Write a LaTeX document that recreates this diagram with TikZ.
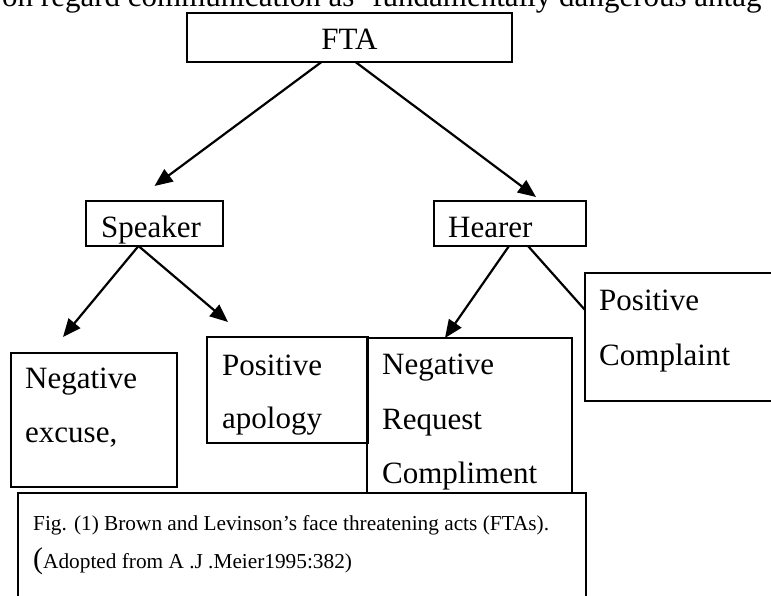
\documentclass[tikz,border=0pt]{standalone}
\usepackage{fontspec}
\setmainfont{Liberation Serif}
\usepackage{tikz}
\usetikzlibrary{arrows.meta}

\begin{document}
\begin{tikzpicture}[x=1pt, y=-1pt,
  box/.style={draw, line width=2pt, anchor=north west, inner sep=0pt, outer sep=0pt},
  word/.style={anchor=base west, inner sep=0pt, font=\fontsize{31}{37}\selectfont},
  small/.style={anchor=base west, inner sep=0pt, font=\fontsize{21.3}{25}\selectfont},
  arr/.style={line width=2.2pt, -{Triangle[length=18pt,width=15pt]}}]
 \clip (0,0) rectangle (771,596);
 \node[word] (intro) at (2,7) {on regard communication as ‘fundamentally dangerous antag};
 \node[box, minimum width=325pt, minimum height=49pt] (fta) at (187,13) {};
 \node[word, anchor=base] (ftat) at (349.5,50) {FTA};
 \node[box, minimum width=137pt, minimum height=45pt] (spk) at (86,201) {};
 \node[word] (spkt) at (101,237) {Speaker};
 \node[box, minimum width=152pt, minimum height=45pt] (hear) at (434,201) {};
 \node[word] (heart) at (448,237) {Hearer};
 \node[box, minimum width=166pt, minimum height=134pt] (negex) at (11,353) {};
 \node[word] (negexa) at (25,388) {Negative};
 \node[word] (negexb) at (25,442) {excuse,};
 \node[box, minimum width=161pt, minimum height=106pt] (posap) at (207,337) {};
 \node[word] (posapa) at (222,375) {Positive};
 \node[word] (posapb) at (222,428) {apology};
 \node[box, minimum width=205pt, minimum height=180pt] (negreq) at (367,338) {};
 \node[word] (negreqa) at (382,374) {Negative};
 \node[word] (negreqb) at (382,429) {Request};
 \node[word] (negreqc) at (382,483) {Compliment};
 \node[box, minimum width=230pt, minimum height=128pt] (poscom) at (585,273) {};
 \node[word] (poscoma) at (599,310) {Positive};
 \node[word] (poscomb) at (599,365) {Complaint};
 \draw[arr] ([xshift=-28pt]fta.south) -- ([yshift=15pt]spk.north);
 \draw[arr] ([xshift=6pt]fta.south) -- ([xshift=26pt,yshift=4pt]hear.north);
 \draw[arr] ([xshift=-16pt]spk.south) -- ([xshift=-31pt,yshift=16pt]negex.north);
 \draw[arr] ([xshift=-16pt]spk.south) -- ([xshift=21pt,yshift=15pt]posap.north west);
 \draw[arr] ([xshift=-1pt]hear.south) -- ([xshift=78pt]negreq.north west);
 \draw[line width=2.2pt] ([xshift=18pt]hear.south) -- ([yshift=27pt]poscom.west);
 \node[box, fill=white, minimum width=568pt, minimum height=140pt] (cap) at (18,493) {};
 \node[small] (capa) at (33,530) {Fig. (1) Brown and Levinson’s face threatening acts (FTAs).};
 \node[small] (capb) at (33,568) {{\fontsize{30}{30}\selectfont(}Adopted from A .J .Meier1995:382)};
\end{tikzpicture}
\end{document}
